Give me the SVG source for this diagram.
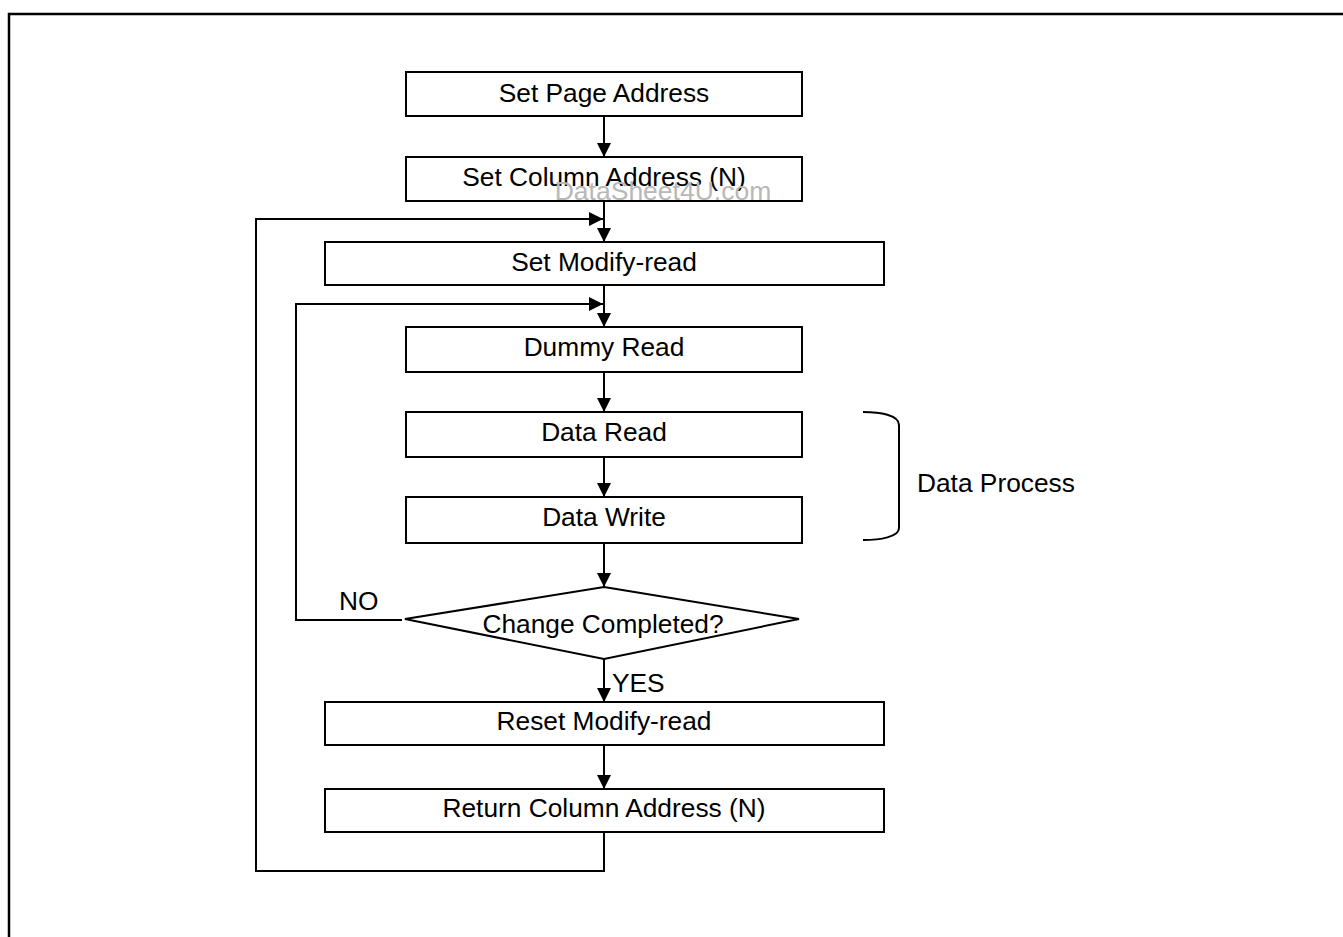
<svg xmlns="http://www.w3.org/2000/svg" width="1343" height="937" viewBox="0 0 1343 937">
<defs>
<marker id="ah" markerUnits="userSpaceOnUse" markerWidth="16" markerHeight="14" refX="14" refY="7" orient="auto">
<path d="M0,0 L14,7 L0,14 Z" fill="#000"/>
</marker>
<style>
.box{fill:#fff;stroke:#000;stroke-width:2}
.t{font-family:"Liberation Sans",Arial,sans-serif;font-size:26.3px;fill:#000;text-anchor:middle}
.l{font-family:"Liberation Sans",Arial,sans-serif;font-size:26.3px;fill:#000}
.c{fill:none;stroke:#000;stroke-width:2}
.a{fill:none;stroke:#000;stroke-width:2;marker-end:url(#ah)}
</style>
</defs>
<rect width="1343" height="937" fill="#fff"/>
<path d="M9,937 L9,14 L1343,14" fill="none" stroke="#000" stroke-width="2.5"/>
<g id="connectors">
<path class="a" d="M604,116 L604,157"/>
<path class="a" d="M604,201 L604,242"/>
<path class="a" d="M604,832 L604,871 L256,871 L256,219 L603,219"/>
<path class="a" d="M604,285 L604,327"/>
<path class="a" d="M402,620 L296,620 L296,304 L603,304"/>
<path class="a" d="M604,372 L604,412"/>
<path class="a" d="M604,457 L604,497"/>
<path class="a" d="M604,543 L604,587"/>
<path class="a" d="M604,659 L604,702"/>
<path class="a" d="M604,745 L604,789"/>
</g>
<g id="n1"><rect class="box" x="406" y="72" width="396" height="44"/><text class="t" x="604" y="102">Set Page Address</text></g>
<g id="n2"><rect class="box" x="406" y="157" width="396" height="44"/><text class="t" x="604" y="186">Set Column Address (N)</text></g>
<g id="watermark"><text x="663" y="200" font-family="'Liberation Sans',Arial,sans-serif" font-size="26.5" fill="#b8b8b8" text-anchor="middle">DataSheet4U.com</text></g>
<g id="n3"><rect class="box" x="325" y="242" width="559" height="43"/><text class="t" x="604" y="271">Set Modify-read</text></g>
<g id="n4"><rect class="box" x="406" y="327" width="396" height="45"/><text class="t" x="604" y="356">Dummy Read</text></g>
<g id="n5"><rect class="box" x="406" y="412" width="396" height="45"/><text class="t" x="604" y="441">Data Read</text></g>
<g id="n6"><rect class="box" x="406" y="497" width="396" height="46"/><text class="t" x="604" y="526">Data Write</text></g>
<g id="n7"><polygon class="box" points="604,587 799,619 604,659 405,619"/><text class="t" x="603" y="633">Change Completed?</text></g>
<g id="n8"><rect class="box" x="325" y="702" width="559" height="43"/><text class="t" x="604" y="730">Reset Modify-read</text></g>
<g id="n9"><rect class="box" x="325" y="789" width="559" height="43"/><text class="t" x="604" y="817">Return Column Address (N)</text></g>
<g id="labels">
<text class="l" x="339" y="610">NO</text>
<text class="l" x="612" y="692">YES</text>
</g>
<g id="bracket">
<path class="c" d="M863,412 C880,412 899,415 899,425 L899,528 C899,537 880,540 863,540"/>
<text class="l" x="917" y="492">Data Process</text>
</g>
</svg>
